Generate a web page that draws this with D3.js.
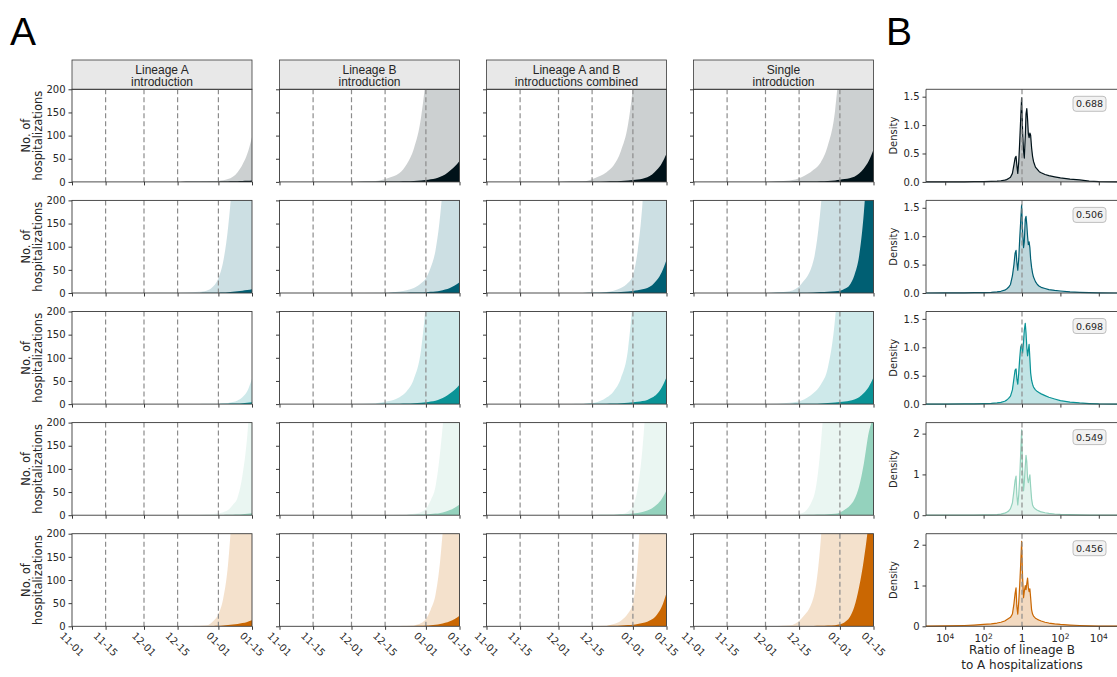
<!DOCTYPE html>
<html>
<head>
<meta charset="utf-8">
<script src="https://cdn.jsdelivr.net/npm/d3@7"></script>
<style>
  body { margin: 0; background: #fff; }
  svg { display: block; }
  text { font-family: "DejaVu Sans", sans-serif; fill: #262626; }
</style>
</head>
<body>
<svg id="chart" width="1117" height="677"></svg>
<script>
// ---------- data ----------
const columnTitles = [
  ["Lineage A", "introduction"],
  ["Lineage B", "introduction"],
  ["Lineage A and B", "introductions combined"],
  ["Single", "introduction"]
];
const rowColors = ["#001219", "#005f73", "#0a9396", "#94d2bd", "#ca6702"];

const startDate = "2020-11-01";
const endDate = "2021-01-15";
const dateTicks = ["2020-11-01", "2020-11-15", "2020-12-01", "2020-12-15", "2021-01-01", "2021-01-15"];
const hospTicks = [0, 50, 100, 150, 200];

// days after Nov 1 at which the hospitalization curves are sampled
const dayGrid = [0, 30, 40, 45, 50, 53, 56, 59, 61, 63, 65, 67, 69, 71, 73, 75];

// upper band (light) per row, one list per column
const upperRow1 = [
  [0, 0, 0.3, 0.5, 0.8, 1, 1.3, 1.7, 2.2, 3.5, 6, 11, 21, 37, 60, 97],
  [0, 0.2, 2, 8, 19, 38, 72, 140, 230, 380, 600, 900, 1300, 1800, 2500, 3400],
  [0, 0.1, 1, 8, 21, 36, 67, 125, 205, 330, 520, 800, 1200, 1800, 2600, 3800],
  [0, 0.3, 3, 10, 26, 42, 79, 155, 270, 420, 650, 1000, 1500, 2200, 3200, 4500]
];
const upperRow2 = [
  [0, 0, 0.3, 0.8, 1.5, 2.5, 5, 15, 32, 68, 140, 260, 450, 750, 1200, 1800],
  [0, 0, 0.5, 1.2, 3.5, 6, 11, 21, 32, 55, 92, 170, 300, 500, 800, 1200],
  [0, 0, 0.2, 0.8, 2, 5, 11, 22, 38, 92, 195, 380, 650, 1000, 1500, 2200],
  [0, 0.2, 4, 20, 70, 185, 400, 750, 1100, 1600, 2300, 3200, 4300, 5800, 7500, 9500]
];
const upperRow3 = [
  [0, 0, 0, 0.1, 0.2, 0.3, 0.5, 0.7, 1, 1.5, 2.5, 4.5, 8, 15, 28, 55],
  [0, 0.2, 2, 6, 15, 28, 55, 118, 220, 380, 600, 900, 1300, 1800, 2500, 3400],
  [0, 0.1, 0.5, 3, 14, 28, 56, 120, 230, 400, 650, 1000, 1500, 2200, 3100, 4200],
  [0, 0.3, 3, 8, 24, 42, 79, 185, 320, 520, 800, 1200, 1700, 2400, 3300, 4500]
];
const upperRow4 = [
  [0, 0, 0.2, 0.4, 0.8, 1.2, 1.8, 2.8, 4, 6.5, 11, 22, 38, 85, 170, 320],
  [0, 0, 0.2, 0.5, 1, 1.5, 3, 7, 14, 32, 62, 140, 260, 450, 750, 1200],
  [0, 0, 0.1, 0.3, 0.6, 1, 2, 8, 20, 58, 145, 300, 550, 900, 1400, 2100],
  [0, 0.1, 0.5, 4, 38, 150, 400, 800, 1200, 1800, 2600, 3600, 4800, 6300, 8000, 10000]
];
const upperRow5 = [
  [0, 0, 0.1, 0.3, 0.6, 1, 2, 12, 26, 60, 133, 280, 500, 850, 1300, 1900],
  [0, 0, 0.1, 0.3, 0.6, 1, 2, 7, 16, 36, 68, 145, 280, 480, 780, 1200],
  [0, 0, 0.2, 0.5, 1.5, 5, 12, 28, 50, 140, 350, 650, 1050, 1600, 2300, 3200],
  [0, 0.1, 2, 17, 62, 185, 450, 850, 1300, 1900, 2700, 3700, 4900, 6400, 8200, 10000]
];

// lower band (dark) per row, one list per column
const lowerRow1 = [
  [0, 0, 0, 0, 0.1, 0.2, 0.3, 0.4, 0.5, 0.7, 0.9, 1.2, 1.6, 2, 2.5, 3.2],
  [0, 0, 0.3, 0.6, 1, 1.5, 2, 3, 4, 5.5, 7.5, 11, 16, 24, 33, 45],
  [0, 0, 0.2, 0.5, 1, 1.5, 2, 3, 4, 5, 7, 10, 16, 26, 40, 61],
  [0, 0, 0.3, 0.6, 1, 1.5, 2.2, 3.2, 4.5, 6, 8, 11, 18, 29, 45, 70]
];
const lowerRow2 = [
  [0, 0, 0, 0, 0.1, 0.2, 0.3, 0.5, 0.8, 1.2, 1.8, 2.6, 3.6, 4.8, 6.3, 8],
  [0, 0, 0.1, 0.2, 0.4, 0.6, 0.9, 1.3, 1.8, 2.5, 3.5, 5, 7.5, 11, 16, 23],
  [0, 0, 0.2, 0.5, 1, 1.5, 2.2, 3.3, 4.5, 6, 8, 11, 17, 28, 45, 72],
  [0, 0, 0.3, 0.7, 1.3, 2, 2.8, 3.8, 5, 9, 17, 38, 80, 175, 340, 550]
];
const lowerRow3 = [
  [0, 0, 0, 0, 0.1, 0.1, 0.2, 0.3, 0.4, 0.6, 0.8, 1.1, 1.5, 2.1, 2.9, 4],
  [0, 0, 0.3, 0.6, 1, 1.5, 2, 3, 4, 5.5, 7.5, 11, 16, 23, 31, 42],
  [0, 0, 0.2, 0.5, 1, 1.5, 2, 3, 4, 5, 6.5, 9, 14, 22, 36, 58],
  [0, 0, 0.3, 0.6, 1, 1.5, 2.2, 3.2, 4.5, 5.5, 7, 10, 15, 24, 37, 58]
];
const lowerRow4 = [
  [0, 0, 0, 0, 0.1, 0.1, 0.2, 0.3, 0.4, 0.6, 0.8, 1.1, 1.5, 2.1, 2.9, 4],
  [0, 0, 0.1, 0.2, 0.4, 0.6, 0.9, 1.3, 1.8, 2.5, 3.5, 5, 7.5, 11, 16, 23],
  [0, 0, 0.2, 0.4, 0.8, 1.2, 1.8, 2.7, 3.8, 5, 7, 10, 15, 23, 35, 54],
  [0, 0, 0.2, 0.5, 0.9, 1.3, 2, 3, 6, 12, 20, 34, 62, 112, 178, 210]
];
const lowerRow5 = [
  [0, 0, 0, 0.1, 0.2, 0.3, 0.5, 0.8, 1.2, 1.8, 2.6, 3.7, 5.2, 7, 9.5, 13],
  [0, 0, 0.1, 0.2, 0.4, 0.6, 0.9, 1.3, 1.8, 2.5, 3.5, 5, 7.5, 11, 16, 23],
  [0, 0, 0.2, 0.4, 0.8, 1.2, 1.8, 2.6, 3.5, 5, 7, 10, 15, 25, 42, 72],
  [0, 0, 0.2, 0.5, 0.9, 1.3, 1.8, 2.5, 4.5, 9, 19, 42, 85, 145, 230, 380]
];
const upperRows = [upperRow1, upperRow2, upperRow3, upperRow4, upperRow5];
const lowerRows = [lowerRow1, lowerRow2, lowerRow3, lowerRow4, lowerRow5];

// ratio distribution (log10 of B/A hospitalizations) and its density per row
const logRatio = [-5, -4, -3, -2.5, -2, -1.6, -1.3, -1.1, -0.9, -0.8, -0.7, -0.6, -0.5, -0.42, -0.36, -0.31,
  -0.27, -0.22, -0.17, -0.12, -0.07, -0.02, 0.03, 0.08, 0.12, 0.17, 0.21, 0.25, 0.29, 0.33, 0.37, 0.41,
  0.45, 0.5, 0.55, 0.6, 0.7, 0.8, 0.9, 1.0, 1.2, 1.4, 1.7, 2.0, 2.5, 3.0, 3.5, 4, 5];
const densityRow1 = [0, 0, 0.002, 0.004, 0.006, 0.01, 0.015, 0.02, 0.03, 0.04, 0.06, 0.08, 0.15, 0.3, 0.42, 0.45,
  0.3, 0.15, 0.35, 0.7, 1.1, 1.48, 0.9, 0.55, 0.42, 0.8, 1.2, 1.29, 1.1, 0.85, 0.78, 0.86,
  0.82, 0.6, 0.45, 0.36, 0.26, 0.22, 0.18, 0.16, 0.13, 0.11, 0.09, 0.07, 0.05, 0.035, 0.015, 0.004, 0];
const densityRow2 = [0, 0.001, 0.003, 0.005, 0.008, 0.012, 0.02, 0.03, 0.05, 0.07, 0.1, 0.15, 0.3, 0.5, 0.7, 0.75,
  0.55, 0.4, 0.6, 0.95, 1.25, 1.55, 1.1, 0.8, 0.9, 1.3, 1.35, 1.2, 1.0, 0.85, 0.9, 0.8,
  0.6, 0.45, 0.35, 0.28, 0.2, 0.15, 0.12, 0.1, 0.08, 0.06, 0.045, 0.035, 0.02, 0.012, 0.006, 0.002, 0];
const densityRow3 = [0, 0.001, 0.003, 0.005, 0.008, 0.012, 0.02, 0.03, 0.05, 0.07, 0.1, 0.14, 0.25, 0.45, 0.6, 0.62,
  0.45, 0.35, 0.55, 0.8, 1.0, 1.05, 0.9, 1.1, 1.3, 1.42, 1.25, 1.0, 0.85, 0.95, 1.05, 0.8,
  0.55, 0.42, 0.35, 0.3, 0.25, 0.22, 0.2, 0.18, 0.15, 0.12, 0.09, 0.06, 0.035, 0.02, 0.01, 0.003, 0];
const densityRow4 = [0, 0.001, 0.002, 0.004, 0.006, 0.01, 0.015, 0.025, 0.05, 0.07, 0.1, 0.16, 0.3, 0.6, 0.85, 0.96,
  0.5, 0.25, 0.5, 0.9, 1.5, 2.09, 1.1, 0.6, 0.8, 1.2, 1.47, 1.3, 0.9, 0.8, 0.9, 0.99,
  0.7, 0.4, 0.25, 0.2, 0.15, 0.12, 0.1, 0.08, 0.06, 0.045, 0.03, 0.02, 0.012, 0.006, 0.003, 0.001, 0];
const densityRow5 = [0.005, 0.01, 0.02, 0.03, 0.045, 0.06, 0.08, 0.1, 0.13, 0.16, 0.19, 0.22, 0.3, 0.55, 0.8, 0.94,
  0.5, 0.3, 0.6, 1.0, 1.5, 2.08, 1.2, 0.7, 0.85, 1.0, 0.9, 1.05, 1.18, 0.95, 0.85, 0.92,
  0.7, 0.4, 0.3, 0.25, 0.2, 0.17, 0.15, 0.13, 0.1, 0.08, 0.06, 0.045, 0.03, 0.02, 0.012, 0.006, 0.002];
const densityRows = [densityRow1, densityRow2, densityRow3, densityRow4, densityRow5];
const overlapValues = ["0.688", "0.506", "0.698", "0.549", "0.456"];
const densityMax = [1.63, 1.63, 1.63, 2.27, 2.27];
const densityTicks = [[0, 0.5, 1, 1.5], [0, 0.5, 1, 1.5], [0, 0.5, 1, 1.5], [0, 1, 2], [0, 1, 2]];
const ratioTicks = [1e-4, 1e-2, 1, 1e2, 1e4];
const ratioTickBase = ["10", "10", "1", "10", "10"];
const ratioTickExp = ["4", "2", "", "2", "4"];

// ---------- layout ----------
const svg = d3.select("#chart");
const colLeft = [72, 279.5, 486.5, 693.5];
const panelW = 180;
const rowTop = [89.3, 200.4, 311.5, 422.6, 533.7];
const panelH = 92.6;
const bLeft = 926, bRight = 1118;
const spine = "#3a3a3a";

const parse = d3.utcParse("%Y-%m-%d");
const t0 = parse(startDate), t1 = parse(endDate);
const tickDates = dateTicks.map(parse);
const fmt = d3.utcFormat("%m-%d");

const defs = svg.append("defs");

// panel letters
svg.append("text").attr("x", 10).attr("y", 45)
  .style("font-family", "'Liberation Sans', Arial, sans-serif").style("font-size", "39px").style("fill", "#000")
  .text("A");
svg.append("text").attr("x", 886).attr("y", 45)
  .style("font-family", "'Liberation Sans', Arial, sans-serif").style("font-size", "39px").style("fill", "#000")
  .text("B");

// column headers
columnTitles.forEach((lines, c) => {
  const g = svg.append("g");
  g.append("rect").attr("x", colLeft[c]).attr("y", 60).attr("width", panelW).attr("height", 29.3)
    .attr("fill", "#e8e8e8").attr("stroke", spine).attr("stroke-width", 0.8);
  lines.forEach((ln, i) => {
    g.append("text").attr("x", colLeft[c] + panelW / 2).attr("y", 74.3 + i * 11.8)
      .attr("text-anchor", "middle")
      .style("font-family", "'Liberation Sans', Arial, sans-serif").style("font-size", "12px")
      .text(ln);
  });
});

// ---------- panel A grid ----------
rowColors.forEach((color, r) => {
  const top = rowTop[r];
  const y = d3.scaleLinear().domain([0, 200]).range([top + panelH, top]);

  // y label
  const yl = svg.append("text")
    .attr("transform", `translate(32.5,${top + panelH / 2}) rotate(-90)`)
    .attr("text-anchor", "middle").style("font-size", "11.5px");
  yl.append("tspan").attr("x", 0).attr("dy", "-0.25em").text("No. of");
  yl.append("tspan").attr("x", 0).attr("dy", "1.1em").text("hospitalizations");

  columnTitles.forEach((_, c) => {
    const x = d3.scaleUtc().domain([t0, t1]).range([colLeft[c], colLeft[c] + panelW]);
    const clipId = `clip-${r}-${c}`;
    defs.append("clipPath").attr("id", clipId).append("rect")
      .attr("x", colLeft[c]).attr("y", top).attr("width", panelW).attr("height", panelH);

    const pts = (vals) => dayGrid.map((d, i) => ({ t: d3.utcDay.offset(t0, d), v: vals[i] }));
    const area = d3.area().x(d => x(d.t)).y0(y(0)).y1(d => y(d.v)).curve(d3.curveMonotoneX);

    const g = svg.append("g").attr("clip-path", `url(#${clipId})`);
    g.append("path").datum(pts(upperRows[r][c])).attr("d", area)
      .attr("fill", color).attr("fill-opacity", 0.2);
    g.append("path").datum(pts(lowerRows[r][c])).attr("d", area)
      .attr("fill", color);

    // dashed guides at the inner dates
    svg.append("g").selectAll("line").data(tickDates.slice(1, -1)).join("line")
      .attr("x1", d => x(d)).attr("x2", d => x(d)).attr("y1", top).attr("y2", top + panelH)
      .attr("stroke", "#8c8c8c").attr("stroke-width", 1.2).attr("stroke-dasharray", "5,3");

    // frame
    svg.append("rect").attr("x", colLeft[c]).attr("y", top).attr("width", panelW).attr("height", panelH)
      .attr("fill", "none").attr("stroke", spine).attr("stroke-width", 0.9);

    // axes
    const ya = svg.append("g").attr("transform", `translate(${colLeft[c]},0)`)
      .call(d3.axisLeft(y).tickValues(hospTicks).tickSize(3.5).tickPadding(3)
        .tickFormat(c === 0 ? d3.format("d") : () => ""));
    const xa = svg.append("g").attr("transform", `translate(0,${top + panelH})`)
      .call(d3.axisBottom(x).tickValues(tickDates).tickSize(3.5).tickFormat(() => ""));
    [ya, xa].forEach(a => {
      a.select(".domain").remove();
      a.selectAll("line").attr("stroke", spine);
      a.selectAll("text").style("font-size", "10px").style("font-family", "'DejaVu Sans', sans-serif").attr("fill", "#262626");
    });

    if (r === rowColors.length - 1) {
      svg.append("g").selectAll("text").data(tickDates).join("text")
        .attr("transform", d => `translate(${x(d)},${top + panelH + 18}) rotate(45)`)
        .attr("text-anchor", "middle").attr("dominant-baseline", "central")
        .style("font-size", "10px")
        .text(d => fmt(d));
    }
  });
});

// ---------- panel B densities ----------
const xr = d3.scaleLog().domain([1e-5, 1e5]).range([bLeft, bRight]);
rowColors.forEach((color, r) => {
  const top = rowTop[r];
  const y = d3.scaleLinear().domain([0, densityMax[r]]).range([top + panelH, top]);
  const data = logRatio.map((lr, i) => ({ x: Math.pow(10, lr), d: densityRows[r][i] }));

  svg.append("path").datum(data)
    .attr("d", d3.area().x(d => xr(d.x)).y0(y(0)).y1(d => y(d.d)))
    .attr("fill", color).attr("fill-opacity", 0.25);
  svg.append("path").datum(data)
    .attr("d", d3.line().x(d => xr(d.x)).y(d => y(d.d)))
    .attr("fill", "none").attr("stroke", color).attr("stroke-width", 1.2).attr("stroke-linejoin", "round");

  svg.append("line").attr("x1", xr(1)).attr("x2", xr(1)).attr("y1", top).attr("y2", top + panelH)
    .attr("stroke", "#8c8c8c").attr("stroke-width", 1.2).attr("stroke-dasharray", "5,3");

  // frame
  svg.append("path").attr("d", `M${bRight},${top}H${bLeft}V${top + panelH}H${bRight}`)
    .attr("fill", "none").attr("stroke", spine).attr("stroke-width", 0.9);

  const ya = svg.append("g").attr("transform", `translate(${bLeft},0)`)
    .call(d3.axisLeft(y).tickValues(densityTicks[r]).tickSize(3.5).tickPadding(3)
      .tickFormat(r < 3 ? d3.format(".1f") : d3.format("d")));
  const xa = svg.append("g").attr("transform", `translate(0,${top + panelH})`)
    .call(d3.axisBottom(xr).tickValues(ratioTicks).tickSize(3.5).tickFormat(() => ""));
  [ya, xa].forEach(a => {
    a.select(".domain").remove();
    a.selectAll("line").attr("stroke", spine);
    a.selectAll("text").style("font-size", "10px").style("font-family", "'DejaVu Sans', sans-serif").attr("fill", "#262626");
  });

  svg.append("text").attr("transform", `translate(897,${top + panelH / 2}) rotate(-90)`)
    .attr("text-anchor", "middle").style("font-size", "10px").text("Density");

  // overlap annotation
  const bx = 1073, by = top + 7;
  svg.append("rect").attr("x", bx).attr("y", by).attr("width", 33).attr("height", 15).attr("rx", 3)
    .attr("fill", "#f2f2f2").attr("stroke", "#b0b0b0").attr("stroke-width", 0.8);
  svg.append("text").attr("x", bx + 16.5).attr("y", by + 11).attr("text-anchor", "middle")
    .style("font-size", "9.5px").text(overlapValues[r]);

  if (r === rowColors.length - 1) {
    const lbl = svg.append("g").selectAll("text").data(ratioTicks).join("text")
      .attr("x", d => xr(d)).attr("y", top + panelH + 16)
      .attr("text-anchor", "middle").style("font-size", "10.5px");
    lbl.append("tspan").text((d, i) => ratioTickBase[i]);
    lbl.append("tspan").attr("dy", "-0.45em").style("font-size", "7.5px").text((d, i) => ratioTickExp[i]);

    const xl = svg.append("text").attr("x", xr(1)).attr("y", top + panelH + 28)
      .attr("text-anchor", "middle").style("font-size", "12px");
    xl.append("tspan").attr("x", xr(1)).text("Ratio of lineage B");
    xl.append("tspan").attr("x", xr(1)).attr("dy", "1.25em").text("to A hospitalizations");
  }
});
</script>
</body>
</html>
